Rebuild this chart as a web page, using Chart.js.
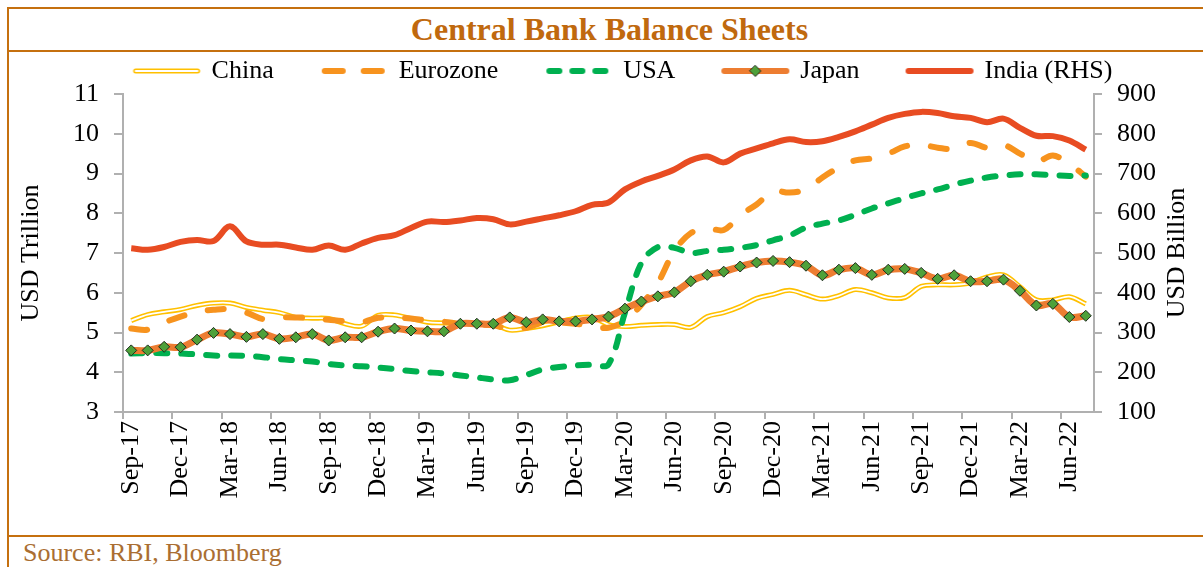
<!DOCTYPE html>
<html>
<head>
<meta charset="utf-8">
<title>Central Bank Balance Sheets</title>
<script src="https://cdn.jsdelivr.net/npm/chart.js@4.4.1/dist/chart.umd.min.js"></script>
<style>
  html, body { margin: 0; padding: 0; background: #fff; }
  #wrap { position: relative; width: 1203px; height: 567px; overflow: hidden; font-family: 'Liberation Serif', 'Times New Roman', serif; }
  .rule { position: absolute; background: #C5700F; }
  #title { position: absolute; left: 16px; width: 1187px; top: 7px; line-height: 44px; text-align: center; font-weight: bold; font-size: 32px; color: #C0690E; }
  #source { position: absolute; left: 23px; top: 538px; line-height: 30px; font-size: 26px; color: #AA6E32; }
  #c { position: absolute; left: 0; top: 0; }
</style>
</head>
<body>
<div id="wrap">
  <div class="rule" style="left:7px;top:7px;width:1196px;height:2px"></div>
  <div class="rule" style="left:7px;top:7px;width:2px;height:560px"></div>
  <div class="rule" style="left:7px;top:50px;width:1196px;height:2px"></div>
  <div class="rule" style="left:7px;top:535px;width:1196px;height:2px"></div>
  <div id="title">Central Bank Balance Sheets</div>
  <div id="source">Source: RBI, Bloomberg</div>
  <canvas id="c" width="1203" height="567"></canvas>
</div>
<script>
// monthly, Sep-17 .. Jul-22
const months = [
  'Sep-17', 'Oct-17', 'Nov-17', 'Dec-17',
  'Jan-18', 'Feb-18', 'Mar-18', 'Apr-18', 'May-18', 'Jun-18', 'Jul-18', 'Aug-18', 'Sep-18', 'Oct-18', 'Nov-18', 'Dec-18',
  'Jan-19', 'Feb-19', 'Mar-19', 'Apr-19', 'May-19', 'Jun-19', 'Jul-19', 'Aug-19', 'Sep-19', 'Oct-19', 'Nov-19', 'Dec-19',
  'Jan-20', 'Feb-20', 'Mar-20', 'Apr-20', 'May-20', 'Jun-20', 'Jul-20', 'Aug-20', 'Sep-20', 'Oct-20', 'Nov-20', 'Dec-20',
  'Jan-21', 'Feb-21', 'Mar-21', 'Apr-21', 'May-21', 'Jun-21', 'Jul-21', 'Aug-21', 'Sep-21', 'Oct-21', 'Nov-21', 'Dec-21',
  'Jan-22', 'Feb-22', 'Mar-22', 'Apr-22', 'May-22', 'Jun-22', 'Jul-22'
];

// USD trillion (left axis)
const china = [5.30, 5.45, 5.52, 5.58, 5.68, 5.74, 5.74, 5.63, 5.56, 5.50, 5.38, 5.36, 5.35, 5.22, 5.16, 5.43, 5.44, 5.35, 5.26, 5.24,
  5.22, 5.22, 5.20, 5.06, 5.10, 5.17, 5.27, 5.36, 5.38, 5.20, 5.15, 5.18, 5.20, 5.20, 5.13, 5.40, 5.50, 5.65, 5.86, 5.96,
  6.06, 5.95, 5.84, 5.93, 6.08, 6.00, 5.87, 5.88, 6.16, 6.20, 6.20, 6.25, 6.40, 6.45, 6.15, 5.82, 5.82, 5.90, 5.72];
const eurozone = [5.10, 5.07, 5.25, 5.40, 5.52, 5.57, 5.59, 5.50, 5.34, 5.38, 5.38, 5.36, 5.32, 5.28, 5.26, 5.37, 5.38, 5.35, 5.30, 5.27,
  5.22, 5.20, 5.18, 5.09, 5.12, 5.25, 5.25, 5.22, 5.15, 5.12, 5.30, 5.70, 6.25, 7.05, 7.50, 7.62, 7.58, 7.95, 8.22, 8.55,
  8.52, 8.60, 8.90, 9.15, 9.33, 9.38, 9.50, 9.68, 9.72, 9.65, 9.62, 9.77, 9.65, 9.72, 9.50, 9.30, 9.45, 9.25, 8.92];
const usa = [4.47, 4.48, 4.48, 4.47, 4.45, 4.42, 4.42, 4.41, 4.38, 4.33, 4.30, 4.27, 4.21, 4.17, 4.15, 4.12, 4.08, 4.03, 4.00, 3.97,
  3.92, 3.87, 3.82, 3.80, 3.93, 4.07, 4.13, 4.17, 4.19, 4.20, 5.50, 6.75, 7.15, 7.13, 7.00, 7.05, 7.08, 7.13, 7.20, 7.32,
  7.44, 7.64, 7.74, 7.82, 7.96, 8.12, 8.25, 8.38, 8.50, 8.60, 8.72, 8.82, 8.90, 8.95, 8.98, 8.98, 8.96, 8.94, 8.95];
const japan = [4.55, 4.55, 4.64, 4.63, 4.82, 4.99, 4.96, 4.89, 4.96, 4.84, 4.88, 4.96, 4.80, 4.88, 4.88, 5.02, 5.10, 5.05, 5.03, 5.03,
  5.22, 5.22, 5.22, 5.38, 5.26, 5.33, 5.28, 5.28, 5.33, 5.40, 5.60, 5.78, 5.91, 6.01, 6.29, 6.45, 6.53, 6.66, 6.76, 6.80,
  6.77, 6.68, 6.44, 6.58, 6.62, 6.45, 6.58, 6.60, 6.50, 6.35, 6.44, 6.29, 6.29, 6.33, 6.05, 5.68, 5.72, 5.39, 5.42];
// USD billion (right axis)
const india = [512, 508, 515, 528, 533, 530, 567, 529, 521, 521, 514, 508, 519, 508, 524, 538, 545, 563, 579, 578,
  582, 588, 585, 572, 579, 587, 595, 605, 621, 627, 660, 680, 694, 710, 733, 743, 728, 750, 763, 776,
  786, 779, 781, 792, 806, 823, 840, 850, 855, 852, 844, 840, 829, 838, 815, 795, 794, 783, 760];

const ink = '#000000';
const axisGrey = '#B0B0B0';
const serif = "'Liberation Serif', 'Times New Roman', serif";
Chart.defaults.font.family = serif;
Chart.defaults.color = ink;

// little line samples for the legend
function legendIcon(draw) {
  const c = document.createElement('canvas');
  c.width = 70; c.height = 14;
  const g = c.getContext('2d');
  g.lineCap = 'round';
  draw(g);
  return c;
}
function seg(g, x1, x2) { g.beginPath(); g.moveTo(x1, 7); g.lineTo(x2, 7); g.stroke(); }

const icons = {
  0: legendIcon(g => {
    g.strokeStyle = '#FFC000'; g.lineWidth = 5; seg(g, 4, 66);
    g.strokeStyle = '#FFFFFF'; g.lineWidth = 1.8; seg(g, 4, 66);
  }),
  2: legendIcon(g => {
    g.strokeStyle = '#F7931E'; g.lineWidth = 6; seg(g, 6, 24); seg(g, 45, 63);
  }),
  3: legendIcon(g => {
    g.strokeStyle = '#00B050'; g.lineWidth = 6; seg(g, 6, 16); seg(g, 29, 39); seg(g, 52, 62);
  }),
  4: legendIcon(g => {
    g.strokeStyle = '#ED7D31'; g.lineWidth = 6; seg(g, 4, 66);
    g.beginPath(); g.moveTo(35, 1.5); g.lineTo(40.5, 7); g.lineTo(35, 12.5); g.lineTo(29.5, 7); g.closePath();
    g.fillStyle = '#4EA13A'; g.fill(); g.strokeStyle = '#1E2B1E'; g.lineWidth = 1; g.stroke();
  }),
  5: legendIcon(g => {
    g.strokeStyle = '#E84C22'; g.lineWidth = 6; seg(g, 4, 66);
  })
};

// Excel puts the secondary title bottom-to-top, Chart.js doesn't
const rightTitle = {
  id: 'rightTitle',
  afterDraw(chart) {
    const {ctx, chartArea} = chart;
    ctx.save();
    ctx.translate(chartArea.right + 83, (chartArea.top + chartArea.bottom) / 2);
    ctx.rotate(-Math.PI / 2);
    ctx.font = '26px ' + serif;
    ctx.fillStyle = ink;
    ctx.textAlign = 'center';
    ctx.textBaseline = 'middle';
    ctx.fillText('USD Billion', 0, 0);
    ctx.restore();
  }
};

new Chart(document.getElementById('c'), {
  type: 'line',
  data: {
    labels: months,
    datasets: [
      { label: 'China', data: china, borderColor: '#FFC000', borderWidth: 5, order: 6 },
      { label: 'China inner', data: china, borderColor: '#FFFFFF', borderWidth: 1.8, order: 5 },
      { label: 'Eurozone', data: eurozone, borderColor: '#F7931E', borderWidth: 6, borderDash: [16, 24], borderCapStyle: 'round', order: 4 },
      { label: 'USA', data: usa, borderColor: '#00B050', borderWidth: 6, borderDash: [11, 14], borderCapStyle: 'round', order: 3 },
      {
        label: 'Japan', data: japan, borderColor: '#ED7D31', borderWidth: 7, order: 1,
        pointStyle: 'rectRot', pointRadius: 5.5, pointBackgroundColor: '#4EA13A', pointBorderColor: '#1E2B1E', pointBorderWidth: 1
      },
      { label: 'India (RHS)', data: india, yAxisID: 'y2', borderColor: '#E84C22', borderWidth: 6, order: 2 }
    ]
  },
  options: {
    responsive: false,
    animation: false,
    layout: { padding: { left: 44, top: 10, right: 0, bottom: 0 } },
    elements: {
      line: { tension: 0.35, borderJoinStyle: 'round', fill: false },
      point: { radius: 0, hoverRadius: 0 }
    },
    scales: {
      x: {
        offset: true,
        grid: {
          offset: true, drawOnChartArea: false, tickLength: 7, lineWidth: 2,
          color: ctx => ctx.index % 3 === 0 ? axisGrey : 'rgba(0,0,0,0)'
        },
        border: { color: axisGrey, width: 2 },
        ticks: {
          autoSkip: false, maxRotation: 90, minRotation: 90, padding: 2,
          font: { size: 26 }, color: ink,
          callback: (v, i) => i % 3 === 0 ? months[i] : ''
        },
        afterFit: s => { s.height = 155; }
      },
      y: {
        position: 'left', min: 3, max: 11,
        ticks: { stepSize: 1, padding: 15, font: { size: 26 }, color: ink },
        grid: { drawOnChartArea: false, tickLength: 9, lineWidth: 2, color: axisGrey },
        border: { color: axisGrey, width: 2 },
        title: { display: true, text: 'USD Trillion', font: { size: 26 }, color: ink, padding: { top: -28, bottom: 0 } },
        afterFit: s => { s.width = 79; }
      },
      y2: {
        position: 'right', min: 100, max: 900,
        ticks: { stepSize: 100, padding: 15, font: { size: 26 }, color: ink },
        grid: { drawOnChartArea: false, tickLength: 8, lineWidth: 2, color: axisGrey },
        border: { color: axisGrey, width: 2 },
        afterFit: s => { s.width = 109; }
      }
    },
    plugins: {
      legend: {
        position: 'top',
        labels: {
          usePointStyle: true, pointStyleWidth: 64, padding: 48, color: ink, font: { size: 26 },
          filter: item => item.datasetIndex !== 1,
          sort: (a, b) => a.datasetIndex - b.datasetIndex,
          generateLabels: chart => Chart.defaults.plugins.legend.labels.generateLabels(chart)
            .map(item => Object.assign(item, { pointStyle: icons[item.datasetIndex] }))
        }
      },
      tooltip: { enabled: false }
    }
  },
  plugins: [rightTitle]
});
</script>
</body>
</html>
